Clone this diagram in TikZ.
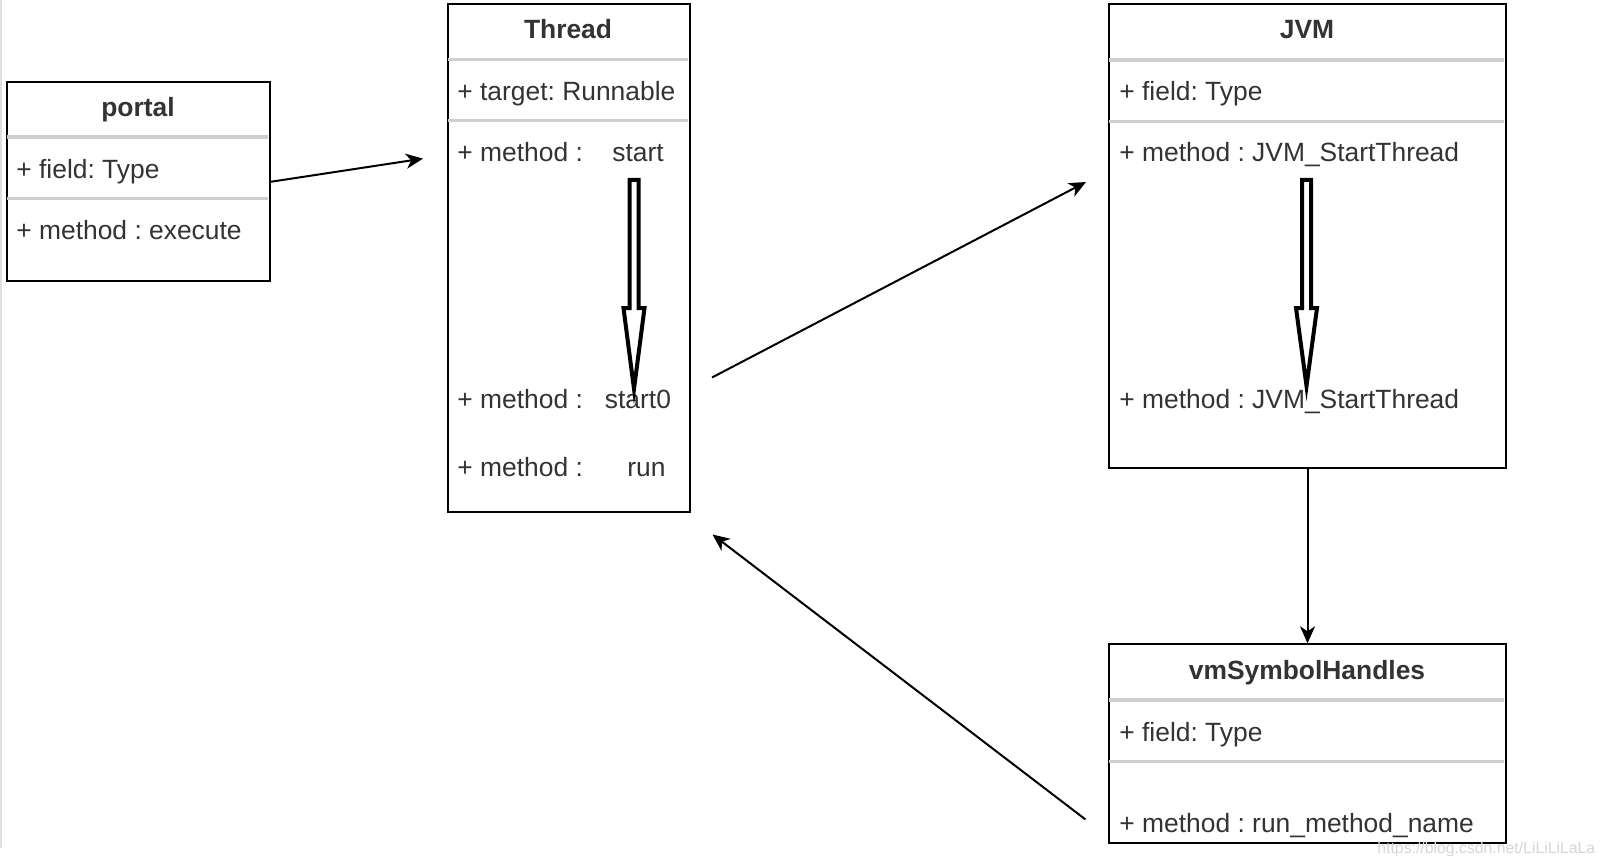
\documentclass[tikz,border=0pt]{standalone}
\usepackage{fontspec}
\setmainfont{Liberation Sans}
\usetikzlibrary{arrows.meta}
\definecolor{txt}{HTML}{333333}
\definecolor{sepc}{HTML}{CFCFCF}
\definecolor{wm}{HTML}{D6D6D6}
\frenchspacing
\begin{document}
\begin{tikzpicture}[x=0.5pt,y=-0.5pt,
  font=\fontsize{13.2}{15.8}\selectfont,
  classbox/.style={draw=black, line width=1pt, fill=white, inner sep=0pt, anchor=north west},
  sepline/.style={draw=sepc, line width=1.6pt},
  row/.style={text=txt, inner sep=0pt, anchor=base west},
  head/.style={text=txt, inner sep=0pt, anchor=base, font=\fontsize{13.2}{15.8}\selectfont\bfseries},
  conn/.style={draw=black, line width=1pt, -{Stealth[length=8.5pt,width=7.5pt,inset=2.5pt]}},
  blockarrow/.style={draw=black, line width=2pt, line join=miter}]
\useasboundingbox (0,0) rectangle (1604,866);
\fill[white] (0,0) rectangle (1604,866);
\draw[gray!25, line width=1pt] (1,0) -- (1,848);

% boxes
\node[classbox, minimum width=131.5pt, minimum height=99.25pt] (portal) at (6,81) {};
\node[classbox, minimum width=121pt, minimum height=253.75pt] (thread) at (447,3) {};
\node[classbox, minimum width=198.5pt, minimum height=231.7pt] (jvm) at (1108,3.3) {};
\node[classbox, minimum width=198.5pt, minimum height=99.2pt] (vm) at (1108,643.3) {};

% separators
\draw[sepline] (7,137) -- (268,137);
\draw[sepline] (7,198.5) -- (268,198.5);
\draw[sepline] (448,59.5) -- (688,59.5);
\draw[sepline] (448,120.5) -- (688,120.5);
\draw[sepline] (1109,60) -- (1504,60);
\draw[sepline] (1109,121.5) -- (1504,121.5);
\draw[sepline] (1109,700) -- (1504,700);
\draw[sepline] (1109,761.5) -- (1504,761.5);

% texts: portal
\node[head] (portal-h) at (138,117) {portal};
\node[row] (portal-f) at (16,178.5) {+ field: Type};
\node[row] (portal-m) at (16,239.5) {+ method : execute};

% texts: Thread
\node[head] (thread-h) at (568,38.5) {Thread};
\node[row] (thread-f) at (457,100.5) {+ target: Runnable};
\node[row] (thread-m1) at (457,162) {+ method :};
\node[row] (thread-m1n) at (612,162) {start};
\node[row] (thread-m2) at (457,408.5) {+ method :};
\node[row] (thread-m2n) at (604.5,408.5) {start0};
\node[row] (thread-m3) at (457,476) {+ method :};
\node[row] (thread-m3n) at (627,476) {run};

% texts: JVM
\node[head] (jvm-h) at (1307,38.5) {JVM};
\node[row] (jvm-f) at (1119,100.5) {+ field: Type};
\node[row] (jvm-m1) at (1119,162) {+ method : JVM\_StartThread};
\node[row] (jvm-m2) at (1119,408) {+ method : JVM\_StartThread};

% texts: vmSymbolHandles
\node[head] (vm-h) at (1307,679.5) {vmSymbolHandles};
\node[row] (vm-f) at (1119,741) {+ field: Type};
\node[row] (vm-m) at (1119,832.5) {+ method : run\_method\_name};

% watermark
\node[text=wm, inner sep=0pt, anchor=base west, font=\fontsize{7.9}{9}\selectfont] (wmark) at (1377,853.5) {https://blog.csdn.net/LiLiLiLaLa};

% block arrows inside boxes
\draw[blockarrow] (629.5,180) -- (638.5,180) -- (638.5,308) -- (644.5,308) -- (634,389) -- (623.5,308) -- (629.5,308) -- cycle;
\draw[blockarrow] (1302,180) -- (1311,180) -- (1311,308) -- (1317,308) -- (1306.5,386) -- (1296,308) -- (1302,308) -- cycle;

% connector free ends
\coordinate (p2t) at (423,158.6);
\coordinate (t2jA) at (712,377.5);
\coordinate (t2jB) at (1086,182);
\coordinate (v2tA) at (1085.4,819.4);
\coordinate (v2tB) at (712.5,534.5);

\draw[conn] (portal.east) ++(0,0.5) -- (p2t);
\draw[conn] (t2jA) -- (t2jB);
\draw[conn] (jvm.south) -- (vm.north);
\draw[conn] (v2tA) -- (v2tB);
\end{tikzpicture}
\end{document}
